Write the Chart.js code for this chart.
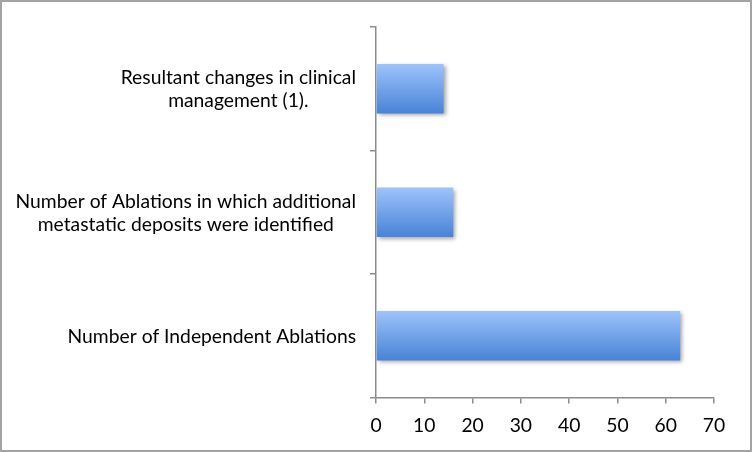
<!DOCTYPE html>
<html lang="en">
<head>
    <meta charset="UTF-8">
    <title>Ablations</title>
    <script src="https://cdn.jsdelivr.net/npm/chart.js"></script>
    <style>
        html, body { margin: 0; padding: 0; background: #fff; }
        #chartContainer {
            width: 752px;
            height: 452px;
            box-sizing: border-box;
            border: 2px solid #a3a3a3;
        }
        canvas { display: block; }
    </style>
</head>
<body>
    <div id="chartContainer">
        <canvas id="ablationChart" width="748" height="448"></canvas>
    </div>
    <script>
        const categories = [
            ['Resultant changes in clinical', 'management (1).'],
            ['Number of Ablations in which additional', 'metastatic deposits were identified'],
            ['Number of Independent Ablations']
        ];
        const values = [14, 16, 63];
        const xTicks = [0, 10, 20, 30, 40, 50, 60, 70];

        const axisColor = '#8c8c8c';
        const labelFont = '19.3px Lato';

        // bar gradient, built per bar from its band on the y scale
        function barFill(context) {
            const chart = context.chart;
            const yScale = chart.scales.y;
            if (!yScale || context.dataIndex === undefined) return '#6fa0e8';
            const center = yScale.getPixelForValue(context.dataIndex);
            const half = yScale.height / categories.length * 0.4 / 2;
            if (!isFinite(center) || !isFinite(half) || half <= 0) return '#6fa0e8';
            const g = chart.ctx.createLinearGradient(0, center - half, 0, center + half);
            g.addColorStop(0, '#9dc3fb');
            g.addColorStop(1, '#4883d6');
            return g;
        }

        const barShadow = {
            id: 'barShadow',
            beforeDatasetsDraw(chart) {
                const c = chart.ctx;
                c.save();
                c.shadowColor = 'rgba(0,0,0,0.35)';
                c.shadowBlur = 4;
                c.shadowOffsetX = 2;
                c.shadowOffsetY = 2;
            },
            afterDatasetsDraw(chart) {
                chart.ctx.restore();
            }
        };

        // category labels: block right-aligned to the axis, lines centred inside it
        const yLabels = {
            id: 'yLabels',
            afterDraw(chart) {
                const c = chart.ctx;
                const yScale = chart.scales.y;
                const right = yScale.right - 6 - 14;
                c.save();
                c.font = labelFont;
                c.fillStyle = '#000';
                c.textAlign = 'center';
                c.textBaseline = 'middle';
                categories.forEach((lines, i) => {
                    const maxW = Math.max(...lines.map(l => c.measureText(l).width));
                    const cx = right - maxW / 2;
                    const cy = yScale.getPixelForValue(i) + 1;
                    const lh = 23;
                    lines.forEach((l, j) => {
                        c.fillText(l, cx, cy - (lines.length - 1) * lh / 2 + j * lh);
                    });
                });
                c.restore();
            }
        };

        new Chart(document.getElementById('ablationChart'), {
            type: 'bar',
            data: {
                labels: categories,
                datasets: [{
                    data: values,
                    backgroundColor: barFill,
                    borderWidth: 0,
                    categoryPercentage: 0.8,
                    barPercentage: 0.5
                }]
            },
            options: {
                indexAxis: 'y',
                responsive: false,
                animation: false,
                layout: { padding: { top: 25, right: 36, left: 0, bottom: 0 } },
                plugins: {
                    legend: { display: false },
                    tooltip: { enabled: false }
                },
                scales: {
                    x: {
                        min: xTicks[0],
                        max: xTicks[xTicks.length - 1],
                        afterBuildTicks: s => { s.ticks = xTicks.map(v => ({ value: v })); },
                        afterFit: s => { s.height = 52.5; },
                        grid: {
                            drawOnChartArea: false,
                            tickLength: 6,
                            color: axisColor,
                            lineWidth: 1.5
                        },
                        border: { color: axisColor, width: 1.5 },
                        ticks: {
                            font: { family: 'Lato', size: 19.3 },
                            color: '#000',
                            padding: 11,
                            maxRotation: 0
                        }
                    },
                    y: {
                        afterFit: s => { s.width = 374; },
                        grid: {
                            drawOnChartArea: false,
                            tickLength: 6,
                            color: axisColor,
                            lineWidth: 1.5
                        },
                        border: { color: axisColor, width: 1.5 },
                        ticks: { display: false }
                    }
                }
            },
            plugins: [barShadow, yLabels]
        });
    </script>
</body>
</html>
